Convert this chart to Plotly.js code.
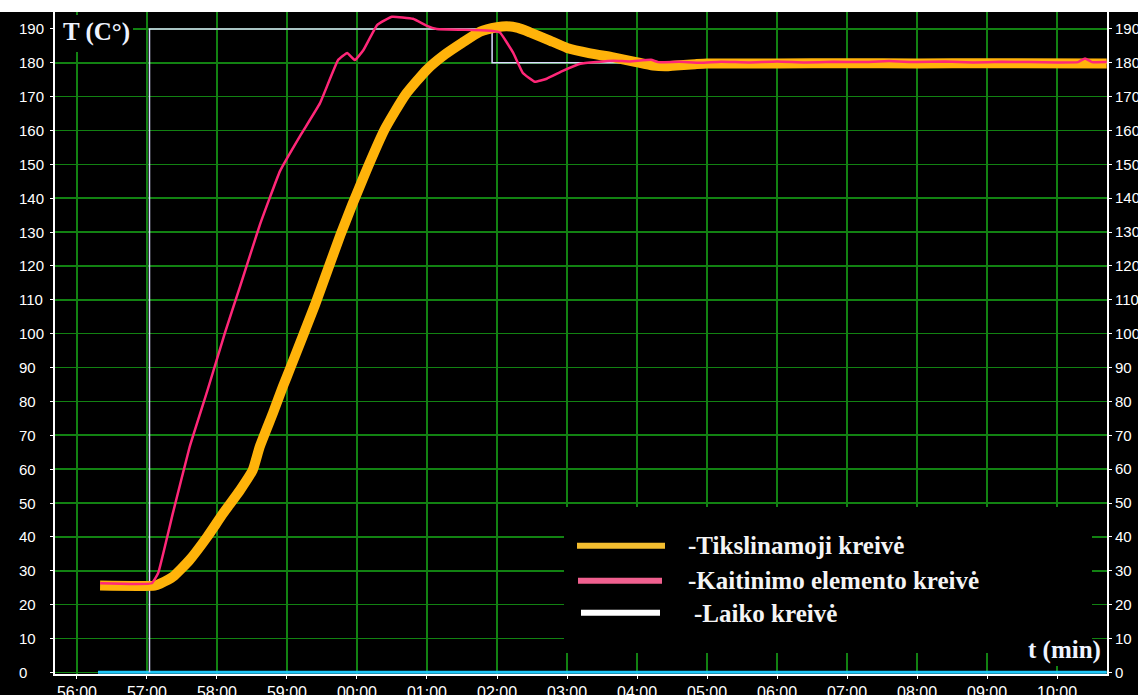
<!DOCTYPE html>
<html>
<head>
<meta charset="utf-8">
<script src="https://cdn.plot.ly/plotly-3.0.1.min.js"></script>
<style>
  html, body { margin: 0; padding: 0; background: #ffffff; width: 1138px; height: 695px; overflow: hidden; }
  #chart { position: absolute; left: 0; top: 12px; width: 1138px; height: 683px; }
</style>
</head>
<body>
<div id="chart"></div>
<script>
// Time axis: minutes counted from 56:00
const tickMinutes = [0, 1, 2, 3, 4, 5, 6, 7, 8, 9, 10, 11, 12, 13, 14];
const tickLabels = ["56:00", "57:00", "58:00", "59:00", "00:00", "01:00", "02:00", "03:00",
                    "04:00", "05:00", "06:00", "07:00", "08:00", "09:00", "10:00"];
const tempTicks = [0, 10, 20, 30, 40, 50, 60, 70, 80, 90, 100, 110, 120, 130, 140, 150, 160, 170, 180, 190];

// Tikslinamoji kreivė (orange)
const targetMin = [0.33, 1.11, 1.19, 1.37, 1.61, 1.86, 2.09, 2.33, 2.51, 2.61, 2.80, 2.94, 3.04, 3.40, 3.76,
                   4.11, 4.40, 4.69, 5.00, 5.26, 5.51, 5.76, 6.00, 6.14, 6.30, 6.47, 6.73, 7.00, 7.33, 7.66,
                   7.97, 8.23, 8.43, 8.61, 8.83, 9.00, 10.0, 11.0, 12.0, 13.0, 14.71];
const targetTemp = [25.6, 25.6, 26.2, 28.2, 33.2, 40.0, 47.0, 53.8, 59.7, 66.6, 76.6, 84.3, 89.5, 108.5, 129.0,
                    147.0, 160.5, 170.5, 178.0, 182.5, 186.0, 189.2, 190.5, 190.8, 190.3, 189.0, 186.8, 184.4, 182.8, 181.6,
                    180.3, 179.2, 179.0, 179.3, 179.6, 179.8, 179.8, 179.9, 179.8, 179.9, 179.8];

// Kaitinimo elemento kreivė (pink)
const heaterMin = [0.33, 1.07, 1.16, 1.37, 1.61, 1.86, 2.11, 2.33, 2.61, 2.90, 3.19, 3.47, 3.73, 3.86, 3.97,
                   4.09, 4.29, 4.50, 4.80, 5.00, 5.14, 5.66, 5.94, 6.04, 6.23, 6.37, 6.54, 6.71, 6.94, 7.19,
                   7.66, 7.90, 8.20, 8.30, 8.60, 8.90, 9.20, 9.60, 10.0, 10.4, 10.8, 11.2, 11.6, 12.0, 12.4,
                   12.8, 13.2, 13.6, 14.0, 14.3, 14.4, 14.5, 14.71];
const heaterTemp = [26.3, 26.3, 29.3, 47.0, 66.6, 83.0, 100.0, 114.0, 132.0, 148.0, 158.5, 168.0, 180.8, 182.9, 180.8,
                    183.7, 191.2, 193.6, 193.0, 190.9, 190.0, 189.7, 189.4, 189.0, 183.0, 177.0, 174.4, 175.3, 177.6, 179.7,
                    180.6, 180.4, 180.9, 180.2, 180.3, 180.0, 180.3, 180.1, 180.4, 180.1, 180.3, 180.2, 180.5, 180.2, 180.4,
                    180.1, 180.3, 180.2, 180.1, 180.2, 181.3, 180.2, 180.2];

// Laiko kreivė (set point, white)
const setMin = [1.036, 1.036, 5.93, 5.93, 14.71];
const setTemp = [0, 190, 190, 180, 180];

// Baseline (cyan)
const baseMin = [0.30, 14.71];
const baseTemp = [0, 0];

const legendNames = ["-Tikslinamoji kreivė", "-Kaitinimo elemento kreivė", "-Laiko kreivė"];
const legendColors = ["#f3bd2f", "#f0608f", "#ffffff"];

// plot-area geometry helpers (page pixels -> paper fraction)
const L = 55, R = 1107, TOP = 12, BOT = 674;
const px = x => (x - L) / (R - L);
const py = y => (BOT - y) / (BOT - TOP);

const grid = "#128212";
const white = "#ffffff";
const sans = "Liberation Sans, Arial, sans-serif";
const serif = "Liberation Serif, Times New Roman, serif";

const traces = [
  { x: baseMin, y: baseTemp, mode: "lines", line: { color: "#1fc6f6", width: 3 }, hoverinfo: "skip", showlegend: false },
  { x: setMin, y: setTemp, mode: "lines", line: { color: "#dcdcff", width: 1.5 }, showlegend: false },
  { x: targetMin, y: targetTemp, mode: "lines", line: { color: "#ffb30a", width: 10, shape: "spline", smoothing: 0.5 }, showlegend: false },
  { x: heaterMin, y: heaterTemp, mode: "lines", line: { color: "#ff2778", width: 2.5, shape: "spline", smoothing: 0.3 }, showlegend: false },
  // carries the right-hand temperature scale
  { x: baseMin, y: baseTemp, yaxis: "y2", mode: "lines", line: { width: 0 }, opacity: 0, hoverinfo: "skip", showlegend: false }
];

const shapes = [
  // black backing boxes for the axis captions and the legend
  { type: "rect", xref: "paper", yref: "paper", x0: px(L), x1: px(133), y0: py(52), y1: py(15), fillcolor: "#000", line: { width: 0 }, layer: "above" },
  { type: "rect", xref: "paper", yref: "paper", x0: px(564), x1: px(1092), y0: py(653), y1: py(507), fillcolor: "#000", line: { width: 0 }, layer: "above" },
  { type: "rect", xref: "paper", yref: "paper", x0: px(1015), x1: px(1092), y0: py(666), y1: py(640), fillcolor: "#000", line: { width: 0 }, layer: "above" }
];
const legendRows = [[577, 665, 545.7], [578, 662, 580.7], [581, 660, 612.7]];
legendRows.forEach((r, i) => {
  shapes.push({ type: "line", xref: "paper", yref: "paper", x0: px(r[0]), x1: px(r[1]), y0: py(r[2]), y1: py(r[2]),
                line: { color: legendColors[i], width: 6 }, layer: "above" });
});

const annotations = [];
// left temperature labels, left-aligned
tempTicks.forEach(v => {
  annotations.push({ xref: "paper", yref: "y", x: px(17), y: v, xanchor: "left", yanchor: "middle",
                     text: String(v), showarrow: false, font: { family: sans, size: 15, color: white } });
});
annotations.push({ xref: "paper", yref: "paper", x: px(61), y: py(32), xanchor: "left", yanchor: "middle",
                   text: "<b>T (C°)</b>", showarrow: false, font: { family: serif, size: 25, color: "#eef3ff" } });
annotations.push({ xref: "paper", yref: "paper", x: px(1026), y: py(650), xanchor: "left", yanchor: "middle",
                   text: "<b>t (min)</b>", showarrow: false, font: { family: serif, size: 25, color: "#eef3ff" } });
const legendTextPos = [[686, 545], [686, 580], [692, 613]];
legendNames.forEach((name, i) => {
  annotations.push({ xref: "paper", yref: "paper", x: px(legendTextPos[i][0]), y: py(legendTextPos[i][1]),
                     xanchor: "left", yanchor: "middle", text: "<b>" + name + "</b>", showarrow: false,
                     font: { family: serif, size: 25, color: "#f4f4f4" } });
});

const layout = {
  width: 1138, height: 683,
  margin: { l: L, r: 1138 - R, t: 0, b: 683 - (BOT - TOP) },
  paper_bgcolor: "#000000", plot_bgcolor: "#000000",
  showlegend: false,
  xaxis: {
    range: [-0.314, 14.714], tickmode: "array", tickvals: tickMinutes, ticktext: tickLabels,
    showgrid: true, gridcolor: grid, gridwidth: 1.6, zeroline: false,
    showline: true, linecolor: white, linewidth: 2,
    ticks: "outside", ticklen: 3, tickcolor: white, tickwidth: 1,
    tickfont: { family: sans, size: 16, color: white }, fixedrange: true
  },
  yaxis: {
    range: [-0.5, 195], tickmode: "array", tickvals: tempTicks, showticklabels: false,
    showgrid: true, gridcolor: grid, gridwidth: 1.6, zeroline: false,
    showline: true, linecolor: white, linewidth: 2,
    ticks: "outside", ticklen: 3, tickcolor: white, tickwidth: 1, fixedrange: true
  },
  yaxis2: {
    overlaying: "y", side: "right", range: [-0.5, 195], tickmode: "array", tickvals: tempTicks,
    showgrid: false, zeroline: false, showline: true, linecolor: white, linewidth: 2,
    ticks: "outside", ticklen: 3, tickcolor: white, tickwidth: 1,
    tickfont: { family: sans, size: 15, color: white }, fixedrange: true
  },
  shapes: shapes,
  annotations: annotations
};

Plotly.newPlot("chart", traces, layout, { displayModeBar: false, staticPlot: true });
</script>
</body>
</html>
